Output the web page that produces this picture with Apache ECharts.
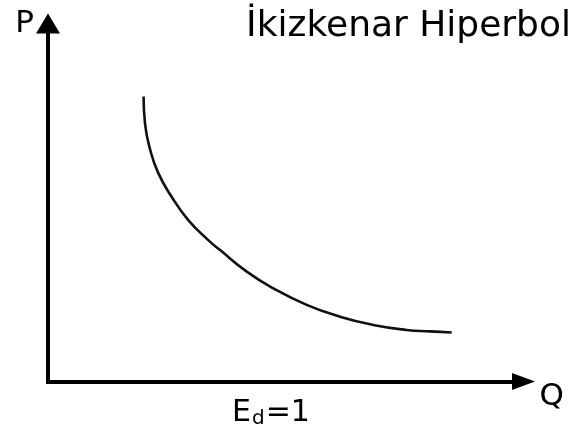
<!DOCTYPE html>
<html>
<head>
<meta charset="utf-8">
<style>
  html, body { margin: 0; padding: 0; background: #fff; }
  #chart { width: 576px; height: 435px; }
</style>
<script src="https://cdn.jsdelivr.net/npm/echarts@6/dist/echarts.min.js"></script>
</head>
<body>
<div id="chart"></div>
<script>
// demand curve (Q and P on a 0-100 scale)
var qValues = [20.1, 20.4, 21.5, 23.2, 26.0, 29.5, 33.7, 36.2, 41.8, 47.4, 54.4, 61.4, 68.4, 75.4, 80.3, 84.9];
var pValues = [79.6, 72.1, 64.7, 58.2, 51.6, 45.1, 39.5, 36.7, 30.7, 26.0, 21.4, 18.1, 15.8, 14.4, 14.0, 13.7];

var titleText = 'İkizkenar Hiperbol';
var xName = 'Q';
var yName = 'P';
var noteText = '{m|E}{d|d}{m|=1}';

var curve = [];
for (var i = 0; i < qValues.length; i++) {
    curve.push([qValues[i], pValues[i]]);
}

var font = 'DejaVu Sans';

var option = {
    backgroundColor: '#fff',
    animation: false,
    title: [
        {
            text: titleText,
            right: 0,
            top: 4,
            textStyle: { fontFamily: font, fontSize: 36, lineHeight: 36, fontWeight: 'normal', color: '#000' }
        },
        {
            text: noteText,
            left: 227,
            top: 393,
            textStyle: {
                fontFamily: font, fontSize: 30, fontWeight: 'normal', color: '#000',
                rich: {
                    m: { fontFamily: font, fontSize: 30, lineHeight: 30, verticalAlign: 'top', color: '#000' },
                    d: { fontFamily: font, fontSize: 20, lineHeight: 30, verticalAlign: 'top', color: '#000', padding: [11, 1, 0, 1] }
                }
            }
        }
    ],
    grid: {
        left: 48,
        right: 52.5,
        top: 23.5,
        bottom: 53.5,
        outerBoundsMode: 'none'
    },
    xAxis: {
        type: 'value',
        min: 0,
        max: 100,
        name: xName,
        nameLocation: 'end',
        nameGap: 16,
        nameTextStyle: { fontFamily: font, fontSize: 31, lineHeight: 30, color: '#000', verticalAlign: 'top' },
        axisLine: {
            show: true,
            symbol: ['none', 'triangle'],
            symbolSize: [17, 23],
            lineStyle: { color: '#000', width: 4, cap: 'square' }
        },
        axisTick: { show: false },
        axisLabel: { show: false },
        splitLine: { show: false }
    },
    yAxis: {
        type: 'value',
        min: 0,
        max: 100,
        name: yName,
        nameLocation: 'end',
        nameGap: 0,
        nameTextStyle: { fontFamily: font, fontSize: 31, color: '#000', align: 'right', verticalAlign: 'middle', padding: [0, 14, 0, 0] },
        axisLine: {
            show: true,
            symbol: ['none', 'triangle'],
            symbolSize: [24, 20],
            lineStyle: { color: '#000', width: 4, cap: 'square' }
        },
        axisTick: { show: false },
        axisLabel: { show: false },
        splitLine: { show: false }
    },
    series: [
        {
            type: 'line',
            data: curve,
            smooth: 0.5,
            symbol: 'none',
            lineStyle: { color: '#111', width: 2.6 }
        }
    ]
};

var myChart = echarts.init(document.getElementById('chart'));
myChart.setOption(option);
window.addEventListener('resize', function () {
    myChart.resize();
});
</script>
</body>
</html>
